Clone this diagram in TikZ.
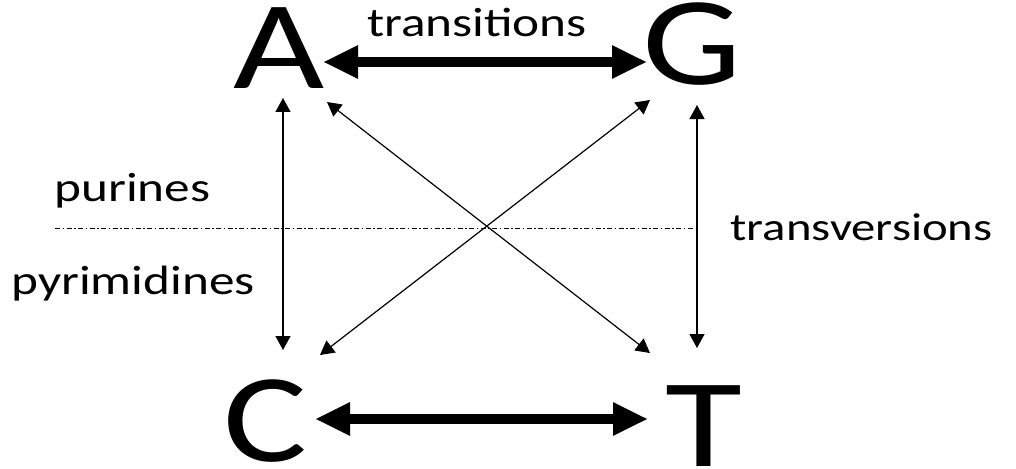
\documentclass[tikz,border=0pt]{standalone}
\usepackage{fontspec}
\setmainfont{Carlito}[FakeStretch=1.25]
\usetikzlibrary{arrows.meta}
\begin{document}
\begin{tikzpicture}[x=1pt,y=-1pt,
  base/.style={inner sep=0pt, font=\fontsize{126}{126}\selectfont},
  lbl/.style={inner sep=0pt, anchor=base, font=\fontsize{41}{41}\selectfont},
  bigarrow/.style={line width=10pt, {Triangle[length=35pt,width=31pt]}-{Triangle[length=35pt,width=31pt]}},
  thinarrow/.style={line width=1.2pt, {Triangle[length=14pt,width=15pt]}-{Triangle[length=14pt,width=15pt]}},
  divider/.style={line width=1pt, dash pattern=on 5pt off 2.5pt on 1.5pt off 2.5pt}]
\useasboundingbox[fill=white] (0,0) rectangle (1016,468);
% bases
\node[base] (A) at (279.5,48) {A};
\node[base] (G) at (692,44) {G};
\node[base] (C) at (265.5,421.5) {C};
\node[base] (T) at (703.5,426) {T};
% labels
\node[lbl] (trans) at (477,37) {transitions};
\node[lbl] (pur) at (132.5,201) {purines};
\node[lbl] (pyr) at (133,294) {pyrimidines};
\node[lbl, font=\fontsize{39}{39}\selectfont] (transv) at (861.5,240) {transversions};
% dividing line
\coordinate (dl) at (55,228);
\coordinate (dr) at (695,228);
\draw[divider] (dl) -- (dr);
% transitions
\draw[bigarrow] ([shift={(43.5,14)}]A.center) -- ([shift={(-45,18)}]G.center);
\draw[bigarrow] ([shift={(49.5,-2.5)}]C.center) -- ([shift={(-55.5,-7)}]T.center);
% transversions
\draw[thinarrow] ([shift={(3.5,50)}]A.center) -- ([shift={(17.5,-71.5)}]C.center);
\draw[thinarrow] ([shift={(5,61)}]G.center) -- ([shift={(-6.5,-78)}]T.center);
\draw[thinarrow] ([shift={(47.5,54)}]A.center) -- ([shift={(-53.5,-73)}]T.center);
\draw[thinarrow] ([shift={(-42,56)}]G.center) -- ([shift={(54.5,-66.5)}]C.center);
\end{tikzpicture}
\end{document}
